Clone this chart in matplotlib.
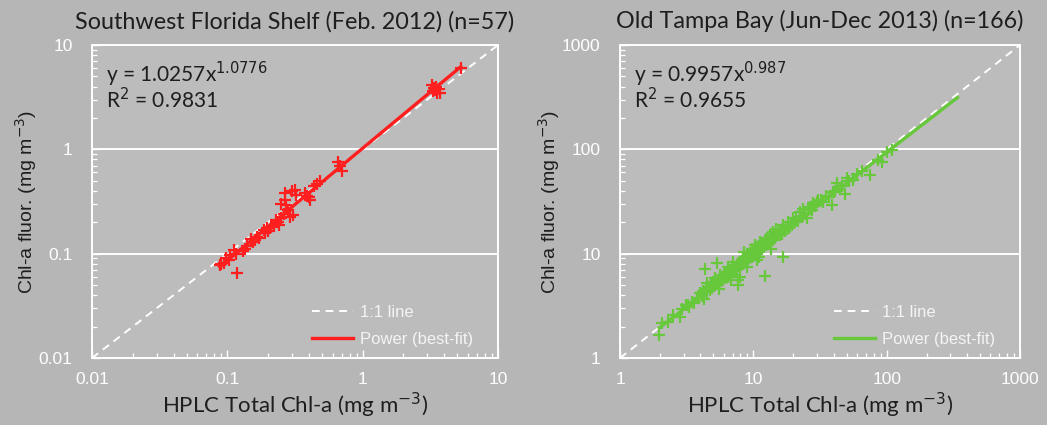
import matplotlib
matplotlib.use("Agg")
import matplotlib.pyplot as plt
import numpy as np
from matplotlib.ticker import LogLocator, FixedLocator, FixedFormatter, NullFormatter

# ---------------- data ----------------
left_title = "Southwest Florida Shelf (Feb. 2012) (n=57)"
right_title = "Old Tampa Bay (Jun-Dec 2013) (n=166)"

left_x = [3.25, 3.35, 3.4, 3.5, 3.55, 3.65, 3.7, 3.3, 5.3,
          0.66, 0.70, 0.68,
          0.46, 0.44, 0.48,
          0.40, 0.375, 0.41, 0.39,
          0.267, 0.265, 0.25, 0.316, 0.32, 0.30, 0.308, 0.29, 0.28,
          0.238, 0.24, 0.23, 0.22, 0.25,
          0.195, 0.19, 0.2, 0.185, 0.21,
          0.165, 0.16, 0.17, 0.155, 0.15,
          0.135, 0.14, 0.13,
          0.111, 0.115, 0.105,
          0.102, 0.098, 0.095,
          0.088, 0.09,
          0.117,
          0.27, 0.26]
left_y = [4.1, 3.9, 3.7, 4.0, 3.5, 3.8, 3.45, 3.6, 6.0,
          0.76, 0.62, 0.70,
          0.47, 0.45, 0.50,
          0.35, 0.38, 0.33, 0.36,
          0.38, 0.33, 0.30, 0.41, 0.365, 0.40, 0.235, 0.227, 0.26,
          0.203, 0.19, 0.21, 0.185, 0.22,
          0.175, 0.157, 0.165, 0.17, 0.18,
          0.146, 0.135, 0.14, 0.13, 0.138,
          0.112, 0.118, 0.107,
          0.108, 0.10, 0.098,
          0.087, 0.09, 0.082,
          0.078, 0.08,
          0.066,
          0.29, 0.24]

right_x = [1.97, 2.05, 2.3, 2.5, 2.82, 2.9, 3.1, 3.25, 3.3, 3.45, 3.6, 3.76, 3.9,
           4.0, 4.1, 4.2, 4.34, 4.4, 4.47, 4.5, 4.6, 4.7, 4.8, 4.9, 5.0, 5.1, 5.16, 5.2, 5.31, 5.4, 5.5, 5.62, 5.7, 5.8, 5.9,
           6.0, 6.13, 6.2, 6.3, 6.4, 6.49, 6.6, 6.7, 6.8, 6.9, 7.0, 7.08, 7.2, 7.3, 7.4, 7.5, 7.6, 7.72, 7.72, 7.8, 7.94, 7.9,
           8.0, 8.1, 8.2, 8.3, 8.41, 8.5, 8.6, 8.7, 8.8, 8.91, 9.0, 9.1, 9.2, 9.3, 9.44, 9.5, 9.6, 9.72, 9.8, 9.9, 10.0,
           10.2, 10.3, 10.4, 10.5, 10.6, 10.7, 10.8, 10.9, 11.0, 11.2, 11.3, 11.4, 11.5, 11.6, 11.8, 12.0, 12.2, 12.2, 12.4, 12.6, 12.8, 13.0,
           13.3, 13.5, 13.7, 14.0, 14.1, 14.4, 14.6, 14.9, 15.2, 15.5, 15.8, 16.0, 16.3, 16.6, 16.8, 16.8, 17.2, 17.5,
           18.3, 18.6, 19.0, 19.4, 19.9, 20.4, 21.0, 21.6, 22.4, 23.0, 23.7, 24.3, 25.1, 25.8, 26.6, 27.5, 28.2, 29.0, 30.0,
           30.7, 32, 33.5, 35, 37, 38.7, 39.8, 41, 42.2, 44.7, 46, 48.7, 50.1, 52, 56.2, 60, 65, 75, 86.6, 91.6, 100, 109,
           5.5, 6.8, 8.5, 9.0, 11.0, 13.5, 4.3]
right_y = [1.65, 2.15, 2.2, 2.6, 2.45, 2.95, 3.2, 3.23, 3.05, 3.48, 3.4, 3.74, 3.8,
           4.2, 3.9, 4.4, 7.13, 4.6, 5.2, 4.3, 4.8, 4.5, 5.0, 4.7, 5.3, 4.9, 5.81, 5.1, 8.09, 5.6, 5.3, 6.25, 5.5, 5.9, 5.6,
           6.2, 6.73, 5.9, 6.4, 6.0, 7.5, 6.5, 6.9, 6.3, 7.2, 6.8, 8.4, 7.0, 7.5, 7.1, 7.8, 7.3, 5.02, 5.6, 8.1, 6.04, 7.6,
           8.3, 7.8, 8.6, 8.0, 9.0, 8.2, 8.9, 8.4, 9.2, 8.4, 9.4, 8.8, 9.6, 9.0, 9.7, 10.2, 9.3, 11.2, 9.9, 10.4, 9.6,
           10.6, 12.1, 10.0, 11.0, 8.7, 10.4, 11.4, 10.7, 11.8, 13.0, 10.9, 11.6, 12.2, 11.1, 12.5, 11.6, 6.17, 12.8, 12.0, 14.0, 12.4, 13.5,
           15.1, 13.1, 14.2, 13.5, 16.2, 14.8, 14.0, 17.4, 15.0, 16.0, 15.1, 16.8, 15.6, 17.2, 9.36, 18.8, 16.5, 18.0,
           20.2, 17.8, 19.6, 18.7, 21.8, 20.0, 21.5, 20.6, 25.2, 22.5, 27.0, 24.0, 21.8, 26.5, 28.1, 26.5, 30.3, 28.5, 31.0,
           32.6, 33, 31.5, 36, 35, 29.6, 39.1, 40, 48, 42.1, 45, 37.2, 53, 50, 50.6, 58, 62, 56.5, 79.6, 75.8, 95, 98,
           4.6, 5.6, 10.3, 7.4, 9.2, 11.2, 3.7]

left_fit = (1.0257, 1.0776, 0.088, 5.3)   # a, b, x start, x end
right_fit = (0.9957, 0.987, 1.97, 340.0)

left_eq = ["y = 1.0257x$^{1.0776}$", "R$^{2}$ = 0.9831"]
right_eq = ["y = 0.9957x$^{0.987}$", "R$^{2}$ = 0.9655"]

left_ticks = [0.01, 0.1, 1, 10]
left_ticklabels = ["0.01", "0.1", "1", "10"]
right_ticks = [1, 10, 100, 1000]
right_ticklabels = ["1", "10", "100", "1000"]

xlabel = "HPLC Total Chl-a (mg m$^{\\mathrm{-3}}$)"
ylabel = "Chl-a fluor. (mg m$^{\\mathrm{-3}}$)"

# ---------------- style ----------------
FIG_BG = "#b6b6b6"
AX_BG = "#bcbcbc"
RED = "#ff1f1f"
GREEN = "#66c83a"
DARK = "#1e1e1e"

fig = plt.figure(figsize=(10.47, 4.25), dpi=100, facecolor=FIG_BG)

def make_panel(rect, xs, ys, fit, eq, ticks, ticklabels, color, title):
    ax = fig.add_axes(rect, facecolor=AX_BG)
    ax.set_xscale("log")
    ax.set_yscale("log")
    lo, hi = ticks[0], ticks[-1]
    ax.set_xlim(lo, hi)
    ax.set_ylim(lo, hi)
    for t in ticks[1:-1]:
        ax.axhline(t, color="white", lw=1.4, zorder=1)
    ax.plot([lo, hi], [lo, hi], color="white", lw=1.4, ls=(0, (4, 3)),
            label="1:1 line", zorder=2)
    ax.plot(xs, ys, ls="none", marker="+", ms=8, mew=1.6, color=color, zorder=3)
    a, b, x0, x1 = fit
    fx = np.array([x0, x1])
    ax.plot(fx, a * fx ** b, color=color, lw=2.4, label="Power (best-fit)", zorder=4)

    for s in ax.spines.values():
        s.set_color("white")
        s.set_linewidth(1.4)
    ax.xaxis.set_major_locator(FixedLocator(ticks))
    ax.yaxis.set_major_locator(FixedLocator(ticks))
    ax.xaxis.set_major_formatter(FixedFormatter(ticklabels))
    ax.yaxis.set_major_formatter(FixedFormatter(ticklabels))
    ax.xaxis.set_minor_locator(LogLocator(base=10, subs=np.arange(2, 10)))
    ax.yaxis.set_minor_locator(LogLocator(base=10, subs=np.arange(2, 10)))
    ax.xaxis.set_minor_formatter(NullFormatter())
    ax.yaxis.set_minor_formatter(NullFormatter())
    ax.tick_params(which="major", direction="in", length=6, width=1.0, color="white",
                   labelcolor="white", labelsize=12.5)
    ax.tick_params(which="minor", direction="in", length=3.5, width=0.9, color="white")
    ax.tick_params(axis="x", which="major", pad=10)
    ax.tick_params(axis="y", which="major", pad=14)
    for lab in ax.get_xticklabels() + ax.get_yticklabels():
        lab.set_family("Liberation Sans")

    ax.set_xlabel(xlabel, fontsize=16, family="Lato", color=DARK, labelpad=3)
    ax.set_ylabel(ylabel, fontsize=14, family="Liberation Sans", color=DARK, labelpad=0)
    ax.set_title(title, fontsize=16.8, family="Lato", color=DARK, pad=12)

    ax.text(0.035, 0.905, eq[0], transform=ax.transAxes, fontsize=15, family="Lato",
            color=DARK, va="center", ha="left")
    ax.text(0.035, 0.825, eq[1], transform=ax.transAxes, fontsize=15, family="Lato",
            color=DARK, va="center", ha="left")

    ax.legend(loc="lower right", bbox_to_anchor=(0.965, 0.0), frameon=False,
              handlelength=2.5, handletextpad=0.4, labelcolor="#f4f4f4",
              borderaxespad=0.25, labelspacing=0.75,
              prop={"family": "Liberation Sans", "size": 12})
    return ax

make_panel([0.0879, 0.1576, 0.3878, 0.7365], left_x, left_y, left_fit, left_eq,
           left_ticks, left_ticklabels, RED, left_title)
make_panel([0.5922, 0.1576, 0.3820, 0.7365], right_x, right_y, right_fit, right_eq,
           right_ticks, right_ticklabels, GREEN, right_title)

fig.savefig("out.png", dpi=100, facecolor=FIG_BG)
